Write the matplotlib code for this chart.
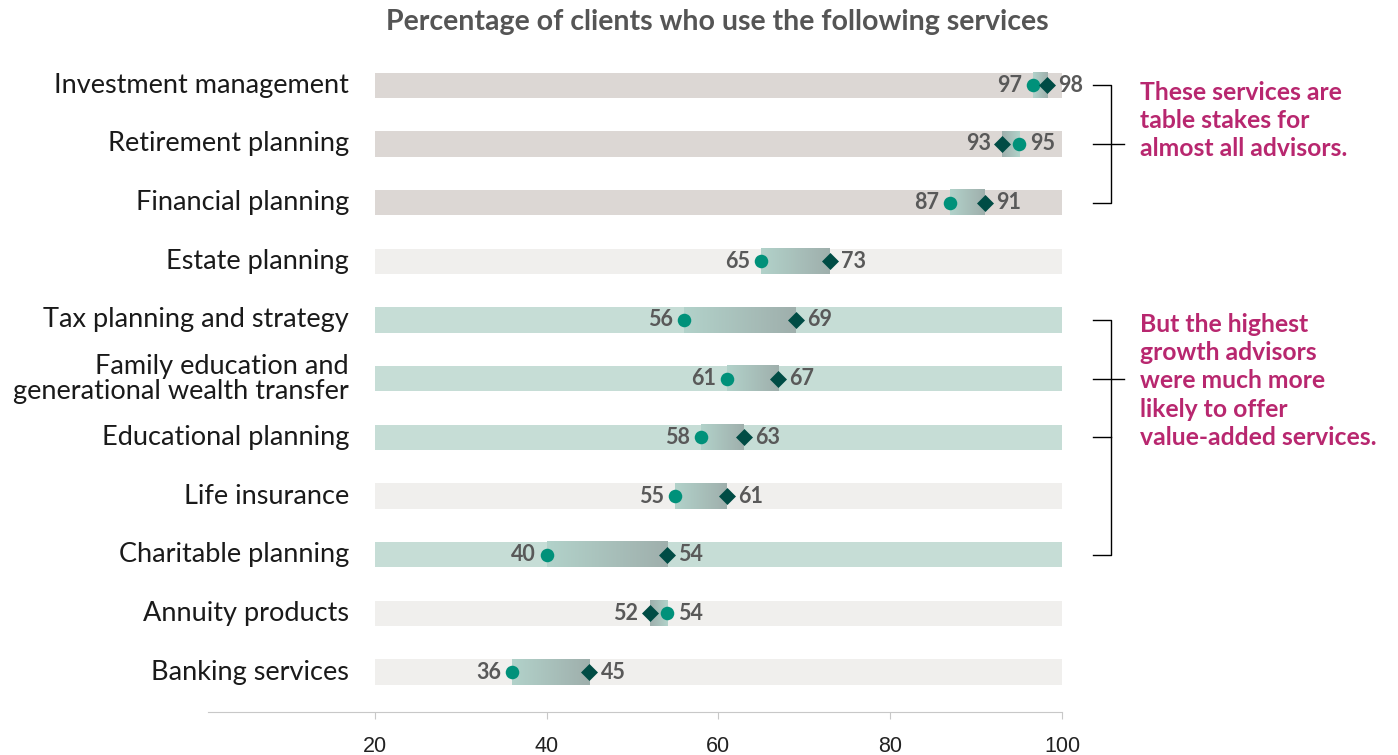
import numpy as np
import matplotlib.pyplot as plt
from matplotlib.colors import LinearSegmentedColormap

plt.rcParams['font.family'] = ['Lato', 'DejaVu Sans']

services = ["Investment management", "Retirement planning", "Financial planning",
            "Estate planning", "Tax planning and strategy",
            "Family education and\ngenerational wealth transfer",
            "Educational planning", "Life insurance", "Charitable planning",
            "Annuity products", "Banking services"]
# circle marker (all advisors) and diamond marker (highest growth advisors)
circle_vals = [96.6, 95, 87, 65, 56, 61, 58, 55, 40, 54, 36]
diamond_vals = [98.3, 93, 91, 73, 69, 67, 63, 61, 54, 52, 45]
band = ["gray", "gray", "gray", "light", "teal", "teal", "teal", "light", "teal", "light", "light"]
band_colors = {"gray": "#dcd7d4", "light": "#f0efed", "teal": "#c6ddd6"}
xticks = [20, 40, 60, 80, 100]

note_top = "These services are\ntable stakes for\nalmost all advisors."
note_bottom = "But the highest\ngrowth advisors\nwere much more\nlikely to offer\nvalue-added services."

fig = plt.figure(figsize=(13.98, 7.55), dpi=100)
ax = fig.add_axes([208 / 1398, 1 - 712 / 755, (1062 - 208) / 1398, (712 - 50) / 755])

grad = LinearSegmentedColormap.from_list("grad", ["#b2d2ca", "#9fafac"])
h = 0.43
for i, name in enumerate(services):
    ax.barh(i, 80, left=20, height=h, color=band_colors[band[i]], zorder=1)
    c, d = circle_vals[i], diamond_vals[i]
    g = np.linspace(0, 1, 256).reshape(1, -1)
    lo, hi = min(c, d), max(c, d)
    if d < c:
        g = g[:, ::-1]
    ax.imshow(g, cmap=grad, extent=[lo, hi, i + h / 2, i - h / 2], aspect='auto', zorder=2)
    ax.scatter(c, i, s=95, marker='o', color="#00917a", zorder=4, linewidths=0)
    ax.scatter(d, i, s=75, marker='D', color="#004c45", zorder=4, linewidths=0)
    ax.annotate(f"{lo:.0f}", (lo, i), xytext=(-8, 0), textcoords='offset points',
                ha='right', va='center', fontsize=15.5, fontweight='bold', color="#595959")
    ax.annotate(f"{hi:.0f}", (hi, i), xytext=(8, 0), textcoords='offset points',
                ha='left', va='center', fontsize=15.5, fontweight='bold', color="#595959")
    ax.text(17, i, name, ha='right', va='center', fontsize=19.5, color="#1a1a1a",
            linespacing=1.0)

# brackets
def bracket(y_top, y_bot, mids, long_mid):
    kw = dict(color='black', lw=1, clip_on=False)
    ax.plot([103.6, 105.7, 105.7, 103.6], [y_top, y_top, y_bot, y_bot], **kw)
    for m in mids:
        ax.plot([103.6, 107.2 if m == long_mid else 105.7], [m, m], **kw)

bracket(0, 2, [1], 1)
bracket(4, 8, [5, 6], 5)

ax.text(109.1, 0.6, note_top, ha='left', va='center', fontsize=17.8, fontweight='bold',
        color="#b8276f", linespacing=1.27)
ax.text(109.1, 5.04, note_bottom, ha='left', va='center', fontsize=17.8, fontweight='bold',
        color="#b8276f", linespacing=1.27)

ax.set_xlim(0.6, 100)
ax.set_ylim(10.68, -0.6)
ax.set_xticks(xticks)
ax.set_xticklabels([str(t) for t in xticks], fontsize=15.5, family='Liberation Sans', color="#222222")
ax.tick_params(axis='x', length=5, color="#c8c8c8", pad=12)
ax.set_yticks([])
for s in ['top', 'right', 'left']:
    ax.spines[s].set_visible(False)
ax.spines['bottom'].set_color("#c8c8c8")

fig.text(717 / 1398, 1 - 22 / 755, "Percentage of clients who use the following services",
         ha='center', va='center', fontsize=20.5, fontweight='bold', color="#555555")

fig.savefig("out.png", dpi=100)
